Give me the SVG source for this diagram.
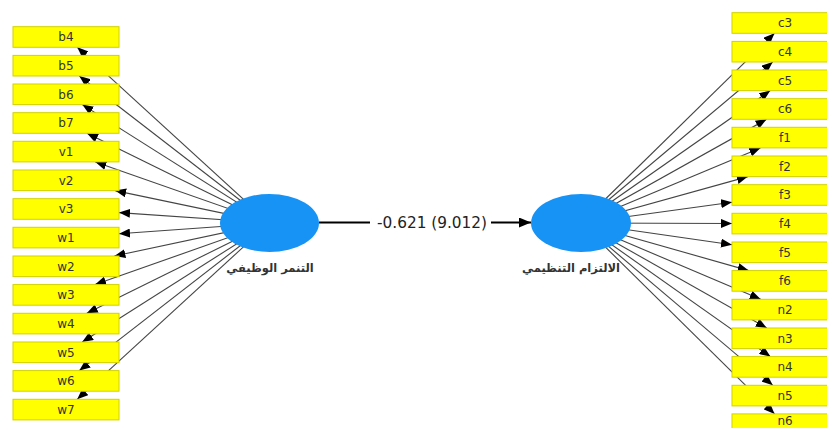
<svg xmlns="http://www.w3.org/2000/svg" width="827" height="428" viewBox="0 0 827 428">
<style>
.box{fill:#ffff00;stroke:#d2d200;stroke-width:1}
.lbl{font-family:"DejaVu Sans",sans-serif;font-size:12px;fill:#333;text-anchor:middle}
.ln{stroke:#444;stroke-width:1.1;fill:none;marker-end:url(#ah)}
.lv{fill:#1793f5}
.ar{font-family:"DejaVu Sans",sans-serif;font-size:11.5px;font-weight:bold;fill:#333;text-anchor:middle}
</style>
<defs>
<marker id="ah" viewBox="0 0 11 9" refX="11" refY="4.5" markerWidth="11" markerHeight="9" markerUnits="userSpaceOnUse" orient="auto">
<path d="M0,0 L11,4.5 L0,9 z" fill="#000"/>
</marker>
<marker id="ah2" viewBox="0 0 12 10" refX="12" refY="5" markerWidth="12" markerHeight="10" markerUnits="userSpaceOnUse" orient="auto">
<path d="M0,0 L12,5 L0,10 z" fill="#000"/>
</marker>
</defs>
<rect width="827" height="428" fill="#fff"/>
<g id="connectors">
<line class="ln" x1="269.5" y1="223" x2="77.3" y2="47.3"/>
<line class="ln" x1="269.5" y1="223" x2="79.3" y2="76.0"/>
<line class="ln" x1="269.5" y1="223" x2="82.3" y2="104.6"/>
<line class="ln" x1="269.5" y1="223" x2="87.0" y2="133.3"/>
<line class="ln" x1="269.5" y1="223" x2="95.4" y2="161.9"/>
<line class="ln" x1="269.5" y1="223" x2="115.1" y2="190.6"/>
<line class="ln" x1="269.5" y1="223" x2="119" y2="212.6"/>
<line class="ln" x1="269.5" y1="223" x2="119" y2="233.8"/>
<line class="ln" x1="269.5" y1="223" x2="114.4" y2="256.0"/>
<line class="ln" x1="269.5" y1="223" x2="95.1" y2="284.6"/>
<line class="ln" x1="269.5" y1="223" x2="86.8" y2="313.3"/>
<line class="ln" x1="269.5" y1="223" x2="82.2" y2="342.0"/>
<line class="ln" x1="269.5" y1="223" x2="79.3" y2="370.6"/>
<line class="ln" x1="269.5" y1="223" x2="77.2" y2="399.3"/>
<line class="ln" x1="581" y1="223" x2="774.5" y2="33.3"/>
<line class="ln" x1="581" y1="223" x2="772.7" y2="62.0"/>
<line class="ln" x1="581" y1="223" x2="770.3" y2="90.6"/>
<line class="ln" x1="581" y1="223" x2="766.6" y2="119.3"/>
<line class="ln" x1="581" y1="223" x2="760.4" y2="147.9"/>
<line class="ln" x1="581" y1="223" x2="747.9" y2="176.6"/>
<line class="ln" x1="581" y1="223" x2="732" y2="202.2"/>
<line class="ln" x1="581" y1="223" x2="732" y2="223.5"/>
<line class="ln" x1="581" y1="223" x2="732" y2="244.7"/>
<line class="ln" x1="581" y1="223" x2="748.7" y2="270.6"/>
<line class="ln" x1="581" y1="223" x2="760.7" y2="299.3"/>
<line class="ln" x1="581" y1="223" x2="766.8" y2="328.0"/>
<line class="ln" x1="581" y1="223" x2="770.4" y2="356.6"/>
<line class="ln" x1="581" y1="223" x2="772.8" y2="385.3"/>
<line class="ln" x1="581" y1="223" x2="774.6" y2="413.9"/>
<line x1="319" y1="222.5" x2="531" y2="222.5" stroke="#000" stroke-width="2" marker-end="url(#ah2)"/>
<rect x="370" y="213" width="121" height="19" fill="#fff"/>
<text x="432" y="227.5" font-family="DejaVu Sans, sans-serif" font-size="15.3" fill="#222" text-anchor="middle">-0.621 (9.012)</text>
</g>
<g id="lv1"><ellipse class="lv" cx="269.5" cy="223" rx="49.5" ry="29"/><text class="ar" x="270" y="272">التنمر الوظيفي</text></g>
<g id="lv2"><ellipse class="lv" cx="581" cy="223" rx="50" ry="29"/><text class="ar" x="571" y="272">الالتزام التنظيمي</text></g>
<g id="b4"><rect class="box" x="13" y="26.7" width="106" height="20.6"/><text class="lbl" x="66" y="41.3">b4</text></g>
<g id="b5"><rect class="box" x="13" y="55.4" width="106" height="20.6"/><text class="lbl" x="66" y="70">b5</text></g>
<g id="b6"><rect class="box" x="13" y="84" width="106" height="20.6"/><text class="lbl" x="66" y="98.6">b6</text></g>
<g id="b7"><rect class="box" x="13" y="112.7" width="106" height="20.6"/><text class="lbl" x="66" y="127.3">b7</text></g>
<g id="v1"><rect class="box" x="13" y="141.3" width="106" height="20.6"/><text class="lbl" x="66" y="155.9">v1</text></g>
<g id="v2"><rect class="box" x="13" y="170" width="106" height="20.6"/><text class="lbl" x="66" y="184.6">v2</text></g>
<g id="v3"><rect class="box" x="13" y="198.7" width="106" height="20.6"/><text class="lbl" x="66" y="213.3">v3</text></g>
<g id="w1"><rect class="box" x="13" y="227.3" width="106" height="20.6"/><text class="lbl" x="66" y="241.9">w1</text></g>
<g id="w2"><rect class="box" x="13" y="256" width="106" height="20.6"/><text class="lbl" x="66" y="270.6">w2</text></g>
<g id="w3"><rect class="box" x="13" y="284.6" width="106" height="20.6"/><text class="lbl" x="66" y="299.2">w3</text></g>
<g id="w4"><rect class="box" x="13" y="313.3" width="106" height="20.6"/><text class="lbl" x="66" y="327.9">w4</text></g>
<g id="w5"><rect class="box" x="13" y="342" width="106" height="20.6"/><text class="lbl" x="66" y="356.6">w5</text></g>
<g id="w6"><rect class="box" x="13" y="370.6" width="106" height="20.6"/><text class="lbl" x="66" y="385.2">w6</text></g>
<g id="w7"><rect class="box" x="13" y="399.3" width="106" height="20.6"/><text class="lbl" x="66" y="413.9">w7</text></g>
<g id="c3"><rect class="box" x="732" y="12.7" width="106" height="20.6"/><text class="lbl" x="785" y="27.3">c3</text></g>
<g id="c4"><rect class="box" x="732" y="41.4" width="106" height="20.6"/><text class="lbl" x="785" y="56">c4</text></g>
<g id="c5"><rect class="box" x="732" y="70" width="106" height="20.6"/><text class="lbl" x="785" y="84.6">c5</text></g>
<g id="c6"><rect class="box" x="732" y="98.7" width="106" height="20.6"/><text class="lbl" x="785" y="113.3">c6</text></g>
<g id="f1"><rect class="box" x="732" y="127.3" width="106" height="20.6"/><text class="lbl" x="785" y="141.9">f1</text></g>
<g id="f2"><rect class="box" x="732" y="156" width="106" height="20.6"/><text class="lbl" x="785" y="170.6">f2</text></g>
<g id="f3"><rect class="box" x="732" y="184.7" width="106" height="20.6"/><text class="lbl" x="785" y="199.3">f3</text></g>
<g id="f4"><rect class="box" x="732" y="213.3" width="106" height="20.6"/><text class="lbl" x="785" y="227.9">f4</text></g>
<g id="f5"><rect class="box" x="732" y="242" width="106" height="20.6"/><text class="lbl" x="785" y="256.6">f5</text></g>
<g id="f6"><rect class="box" x="732" y="270.6" width="106" height="20.6"/><text class="lbl" x="785" y="285.2">f6</text></g>
<g id="n2"><rect class="box" x="732" y="299.3" width="106" height="20.6"/><text class="lbl" x="785" y="313.9">n2</text></g>
<g id="n3"><rect class="box" x="732" y="328" width="106" height="20.6"/><text class="lbl" x="785" y="342.6">n3</text></g>
<g id="n4"><rect class="box" x="732" y="356.6" width="106" height="20.6"/><text class="lbl" x="785" y="371.2">n4</text></g>
<g id="n5"><rect class="box" x="732" y="385.3" width="106" height="20.6"/><text class="lbl" x="785" y="399.9">n5</text></g>
<g id="n6"><rect class="box" x="732" y="413.9" width="106" height="20.6"/><text class="lbl" x="785" y="424.8">n6</text></g>
</svg>
